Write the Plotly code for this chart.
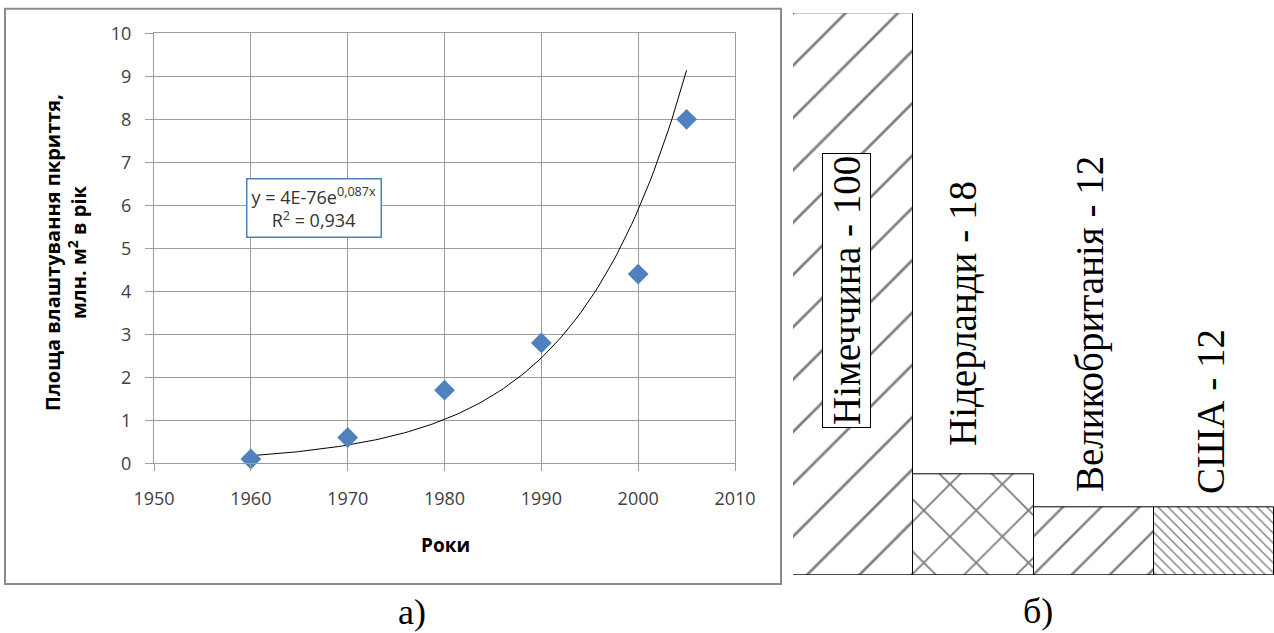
import numpy as np
import plotly.graph_objects as go

# ---- data: panel a) ----
years = [1960, 1970, 1980, 1990, 2000, 2005]
area = [0.1, 0.6, 1.7, 2.8, 4.4, 8.0]
x_ticks = [1950, 1960, 1970, 1980, 1990, 2000, 2010]
y_ticks = list(range(0, 11))
eq_text = "y = 4E-76e<sup>0,087x</sup><br>R<sup>2</sup> = 0,934"
x_title = "Роки"
y_title = "Площа влаштування пкриття,<br>млн. м<sup>2</sup> в рік"

# ---- data: panel б) ----
countries = ["Німеччина", "Нідерланди", "Великобританія", "США"]
shares = [100, 18, 12, 12]
patterns = ["/", "x", "/", "\\"]

W, H = 1274, 633
def px(x):
    return x / W
def py(y):
    return 1 - y / H

# exponential trend (least squares on log values, as in the spreadsheet trendline)
b, lna = np.polyfit(np.array(years, float), np.log(np.array(area)), 1)
tx = np.linspace(years[0], years[-1], 120)
ty = np.exp(lna + b * tx)

fig = go.Figure()
fig.add_trace(go.Scatter(x=tx, y=ty, mode="lines", line=dict(color="black", width=1),
                         xaxis="x", yaxis="y", showlegend=False, hoverinfo="skip"))
fig.add_trace(go.Scatter(x=years, y=area, mode="markers",
                         marker=dict(symbol="diamond", size=16, color="#4F81BD"),
                         xaxis="x", yaxis="y", showlegend=False, cliponaxis=False))

pat_size = [37, 37, 27, 7]
pat_sol = [0.075, 0.1, 0.09, 0.2]
for i, (c, v, p) in enumerate(zip(countries, shares, patterns)):
    fig.add_trace(go.Bar(x=[i], y=[v], xaxis="x2", yaxis="y2", showlegend=False,
                         marker=dict(color="white", line=dict(color="black", width=1),
                                     pattern=dict(shape=p, size=pat_size[i], solidity=pat_sol[i],
                                                  fgcolor="black", bgcolor="white")),
                         width=1.0))

grid = "#9c9c9c"
tickfont = dict(family="Open Sans", size=18, color="#404040")
fig.update_layout(
    width=W, height=H, margin=dict(l=0, r=0, t=0, b=0, autoexpand=False),
    paper_bgcolor="white", plot_bgcolor="white", bargap=0,
    xaxis=dict(domain=[px(154), px(735)], range=[1950, 2010], tickvals=x_ticks,
               showgrid=True, gridcolor=grid, gridwidth=1, showline=True, linecolor=grid,
               mirror=True, ticks="outside", ticklen=7, tickcolor=grid, tickfont=tickfont,
               zeroline=False, anchor="y", fixedrange=True, ticklabelstandoff=12),
    yaxis=dict(domain=[py(463.3), py(33.3)], range=[0, 10], tickvals=y_ticks,
               showgrid=True, gridcolor=grid, gridwidth=1, showline=True, linecolor=grid,
               mirror=True, ticks="outside", ticklen=8, tickcolor=grid, tickfont=tickfont,
               zeroline=False, anchor="x", fixedrange=True, ticklabelstandoff=10),
    xaxis2=dict(domain=[px(793), px(1274)], range=[-0.5, 3.5], visible=False, anchor="y2",
                fixedrange=True),
    yaxis2=dict(domain=[py(575), py(13.3)], range=[0, 100], visible=False, anchor="x2",
                fixedrange=True),
)

# outer frame of panel a)
fig.add_shape(type="rect", xref="paper", yref="paper", x0=px(5), x1=px(781), y0=py(584),
              y1=py(8.7), line=dict(color="#8a8a8a", width=2), layer="below")

def note(x, y, text, font, **kw):
    fig.add_annotation(xref="paper", yref="paper", x=px(x), y=py(y), text=text,
                       showarrow=False, xanchor="center", yanchor="middle", font=font, **kw)

note(313.5, 208, eq_text, dict(family="Open Sans", size=18, color="#333"),
     bgcolor="white", bordercolor="#4F81BD", borderwidth=1.5, borderpad=4, align="center")
note(445, 545, f"<b>{x_title}</b>", dict(family="Open Sans", size=19, color="black"))
note(66, 253, f"<b>{y_title}</b>", dict(family="Open Sans", size=20, color="black"),
     textangle=-90)

serif = dict(family="Liberation Serif", size=39, color="black")
label_pos = [(846, 291), (963, 314), (1090, 324), (1210, 412)]
for i, (c, v) in enumerate(zip(countries, shares)):
    xx, yy = label_pos[i]
    kw = dict(bgcolor="white", bordercolor="black", borderwidth=1, borderpad=2) if i == 0 else {}
    note(xx, yy, f"{c} - {v}", serif, textangle=-90, **kw)

note(412, 612, "а)", dict(family="Liberation Serif", size=36, color="black"))
note(1038, 611, "б)", dict(family="Liberation Serif", size=36, color="black"))

fig.write_html("out.html", config={"displayModeBar": False},
               post_script="document.body.style.margin='0';")
